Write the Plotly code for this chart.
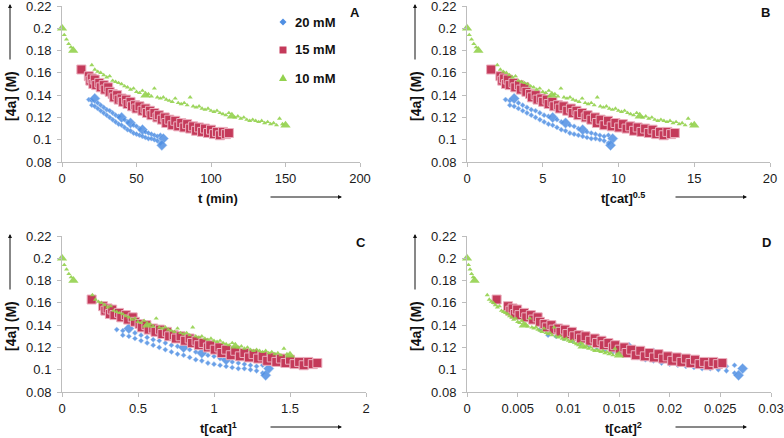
import plotly.graph_objects as go

# ---------------- data ----------------
CAT_20 = 0.020   # M
CAT_15 = 0.015
CAT_10 = 0.010

t_20 = [18, 20, 22, 24, 26, 28, 30, 32, 34, 36, 38, 40, 42, 44, 46, 48, 50, 52, 54, 56, 58, 60, 62, 64, 66, 68,
        20, 22, 24, 26, 28, 30, 32, 34, 36, 38, 40, 42, 44, 46, 48, 50, 52, 54, 56, 58, 60, 62, 64, 66, 67]
c_20 = [0.136, 0.135, 0.137, 0.133, 0.131, 0.129, 0.127, 0.126, 0.124, 0.122, 0.121, 0.120, 0.118, 0.116, 0.115,
        0.113, 0.112, 0.110, 0.109, 0.107, 0.106, 0.105, 0.104, 0.103, 0.104, 0.101,
        0.131, 0.130, 0.128, 0.126, 0.124, 0.122, 0.120, 0.118, 0.116, 0.114, 0.113, 0.111, 0.109, 0.108,
        0.106, 0.105, 0.104, 0.103, 0.102, 0.101, 0.101, 0.100, 0.099, 0.097, 0.095]

t_15 = [13, 18, 19, 20, 21, 22, 23, 25, 26, 28, 29, 31, 32, 34, 35, 37, 38, 40, 41, 43, 44, 46, 47, 49, 50, 52,
        54, 56, 57, 59, 60, 62, 64, 65, 67, 69, 70, 72, 74, 76, 78, 80, 82, 84, 86, 88, 90, 92, 94, 96, 98,
        100, 102, 104, 106, 108, 110, 112]
c_15 = [0.163, 0.157, 0.153, 0.155, 0.150, 0.154, 0.149, 0.151, 0.147, 0.149, 0.145, 0.147, 0.143, 0.141, 0.138,
        0.140, 0.136, 0.137, 0.134, 0.136, 0.132, 0.134, 0.130, 0.131, 0.128, 0.130, 0.126, 0.128, 0.124, 0.126,
        0.122, 0.124, 0.120, 0.122, 0.118, 0.120, 0.115, 0.118, 0.113, 0.117, 0.112, 0.115, 0.111, 0.114, 0.110,
        0.112, 0.108, 0.111, 0.107, 0.110, 0.106, 0.109, 0.105, 0.107, 0.104, 0.107, 0.105, 0.106]

t_10 = [0, 1.5, 3, 4.5, 6, 7.5, 20, 22, 24, 26, 28, 30, 32, 34, 36, 38, 40, 42, 44, 46, 48, 50, 52, 54, 56, 58,
        60, 62, 64, 66, 68, 70, 72, 74, 76, 78, 80, 82, 84, 86, 88, 90, 92, 94, 96, 98, 100, 102, 104, 106, 108,
        110, 112, 114, 116, 118, 120, 122, 124, 126, 128, 130, 132, 134, 136, 138, 140, 142, 144, 146, 148, 150]
c_10 = [0.200, 0.194, 0.190, 0.186, 0.183, 0.180, 0.167, 0.163, 0.161, 0.160, 0.158, 0.156, 0.157, 0.153, 0.152,
        0.151, 0.150, 0.148, 0.147, 0.145, 0.146, 0.143, 0.142, 0.144, 0.140, 0.141, 0.139, 0.146, 0.138, 0.137,
        0.138, 0.136, 0.135, 0.134, 0.137, 0.133, 0.132, 0.133, 0.131, 0.138, 0.130, 0.129, 0.130, 0.128, 0.127,
        0.128, 0.126, 0.125, 0.126, 0.124, 0.123, 0.122, 0.124, 0.121, 0.120, 0.121, 0.119, 0.120, 0.118, 0.117,
        0.118, 0.117, 0.116, 0.117, 0.115, 0.116, 0.114, 0.115, 0.113, 0.119, 0.114, 0.113]

series_names = ["20 mM", "15 mM", "10 mM"]
panel_letters = ["A", "B", "C", "D"]
panel_powers = [None, 0.5, 1, 2]          # x = t for A, t*[cat]^p otherwise
x_titles = ["t (min)", "t[cat]<sup>0.5</sup>", "t[cat]<sup>1</sup>", "t[cat]<sup>2</sup>"]
x_ranges = [(0, 200, 50), (0, 20, 5), (0, 2, 0.5), (0, 0.03, 0.005)]
y_range = (0.08, 0.22, 0.02)
y_title = "[4a] (M)"

# ---------------- styling ----------------
W, H = 784, 438
FONT = "Liberation Sans, Arial, sans-serif"
BLUE = "#4F8FE3"
RED = "#C43A5A"
GREEN = "#93D24E"
AXIS = "#BDBDBD"

# plot-area pixel boxes (left, right, top, bottom)
boxes = [(62, 360, 6, 162), (467, 770, 6, 162), (62, 366, 236, 392), (467, 771, 236, 392)]

def px(x):
    return x / W

def py(y):
    return 1 - y / H

def xform(t, cat, p):
    if p is None:
        return list(t)
    return [ti * cat ** p for ti in t]

big_blue = {(22, 0.137), (40, 0.120), (46, 0.115), (54, 0.109), (68, 0.101), (67, 0.095)}
big_green = {0, 7.5, 56, 114, 150}

sizes_20 = [8 if (t, c) in big_blue else 4 for t, c in zip(t_20, c_20)]
sizes_10 = [9 if t in big_green else 4.5 for t in t_10]

fig = go.Figure()

for i in range(4):
    ax = "" if i == 0 else str(i + 1)
    p = panel_powers[i]
    fig.add_trace(go.Scatter(
        x=xform(t_20, CAT_20, p), y=c_20, mode="markers", xaxis="x" + ax, yaxis="y" + ax,
        marker=dict(symbol="diamond", size=sizes_20, color=BLUE, opacity=0.85,
                    line=dict(width=0.5, color="#9CC3F2")),
        name=series_names[0], showlegend=False, cliponaxis=False))
    fig.add_trace(go.Scatter(
        x=xform(t_15, CAT_15, p), y=c_15, mode="markers", xaxis="x" + ax, yaxis="y" + ax,
        marker=dict(symbol="square", size=9, color=RED,
                    line=dict(width=1, color="#EBAFBE")),
        name=series_names[1], showlegend=False, cliponaxis=False))
    fig.add_trace(go.Scatter(
        x=xform(t_10, CAT_10, p), y=c_10, mode="markers", xaxis="x" + ax, yaxis="y" + ax,
        marker=dict(symbol="triangle-up", size=sizes_10, color=GREEN, opacity=0.9,
                    line=dict(width=0)),
        name=series_names[2], showlegend=False, cliponaxis=False))

layout = dict(width=W, height=H, margin=dict(l=0, r=0, t=0, b=0, autoexpand=False),
              paper_bgcolor="white", plot_bgcolor="white", showlegend=False,
              font=dict(family=FONT, size=13, color="#1a1a1a"))

annotations = []
shapes = []
for i in range(4):
    l, r, t, b = boxes[i]
    sfx = "" if i == 0 else str(i + 1)
    x0, x1, dx = x_ranges[i]
    layout["xaxis" + sfx] = dict(domain=[px(l), px(r)], range=[x0, x1], tickmode="linear", tick0=x0, dtick=dx,
                                 anchor="y" + sfx, showgrid=False, zeroline=False, showline=True,
                                 automargin=False, ticklabeloverflow="allow",
                                 linecolor=AXIS, linewidth=1, ticks="outside", ticklen=4, tickcolor=AXIS,
                                 tickfont=dict(size=13, color="#1a1a1a"))
    layout["yaxis" + sfx] = dict(domain=[py(b), py(t)], range=[y_range[0], y_range[1]], tickmode="linear",
                                 tick0=y_range[0], dtick=y_range[2], anchor="x" + sfx, showgrid=False,
                                 automargin=False, ticklabeloverflow="allow",
                                 zeroline=False, showline=True, linecolor=AXIS, linewidth=1,
                                 ticks="outside", ticklen=4, tickcolor=AXIS, ticklabelstandoff=3,
                                 tickfont=dict(size=13, color="#1a1a1a"))
    # panel letter
    annotations.append(dict(x=px(r - 5), y=py(t + 6), xref="paper", yref="paper", text="<b>%s</b>" % panel_letters[i],
                            showarrow=False, font=dict(size=13, color="#111"), xanchor="center", yanchor="middle"))
    # y title + arrow
    yt_x = l - 51
    annotations.append(dict(x=px(yt_x), y=py(t + 90), xref="paper", yref="paper", text="<b>%s</b>" % y_title,
                            textangle=-90, showarrow=False, font=dict(size=14, color="#111"),
                            xanchor="center", yanchor="middle"))
    annotations.append(dict(x=px(yt_x - 1), y=py(t - 2), xref="paper", yref="paper", text="", showarrow=True,
                            ax=0, ay=57, arrowhead=2, arrowsize=0.8, arrowwidth=1, arrowcolor="#111"))
    # x title + arrow
    xt_center = l + 156
    annotations.append(dict(x=px(xt_center), y=py(b + 36), xref="paper", yref="paper",
                            text="<b>%s</b>" % x_titles[i], showarrow=False, font=dict(size=13, color="#111"),
                            xanchor="center", yanchor="middle"))
    annotations.append(dict(x=px(l + 280), y=py(b + 35), xref="paper", yref="paper", text="", showarrow=True,
                            ax=-73, ay=0, arrowhead=2, arrowsize=0.8, arrowwidth=1, arrowcolor="#111"))

# legend (drawn manually in panel A)
leg_x, leg_ys = 283, [22, 50, 78]
s = 3.5
cx, cy = leg_x, leg_ys[0]
shapes.append(dict(type="path", xref="paper", yref="paper", line=dict(width=0), fillcolor=BLUE,
                   path="M %f %f L %f %f L %f %f L %f %f Z" % (px(cx), py(cy - s), px(cx + s), py(cy),
                                                               px(cx), py(cy + s), px(cx - s), py(cy))))
cx, cy = leg_x, leg_ys[1]
shapes.append(dict(type="rect", xref="paper", yref="paper", line=dict(width=0), fillcolor=RED,
                   x0=px(cx - 3.5), x1=px(cx + 3.5), y0=py(cy + 3.5), y1=py(cy - 3.5)))
cx, cy = leg_x, leg_ys[2]
shapes.append(dict(type="path", xref="paper", yref="paper", line=dict(width=0), fillcolor=GREEN,
                   path="M %f %f L %f %f L %f %f Z" % (px(cx), py(cy - 4), px(cx + 4), py(cy + 3),
                                                       px(cx - 4), py(cy + 3))))
for name, yy in zip(series_names, leg_ys):
    annotations.append(dict(x=px(293), y=py(yy), xref="paper", yref="paper", text="<b>%s</b>" % name,
                            showarrow=False, xanchor="left", yanchor="middle", font=dict(size=13, color="#111")))

layout["annotations"] = annotations
layout["shapes"] = shapes
fig.update_layout(**layout)
fig.write_html("out.html", config={"responsive": False, "displayModeBar": False},
               post_script="document.body.style.margin='0';document.body.style.overflow='hidden';")
